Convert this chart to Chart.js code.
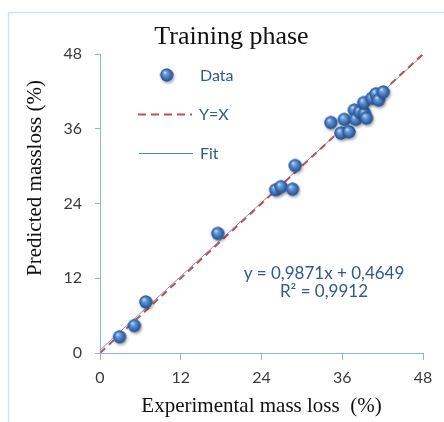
<!DOCTYPE html>
<html>
<head>
<meta charset="utf-8">
<script src="https://cdn.jsdelivr.net/npm/chart.js@4/dist/chart.umd.min.js"></script>
<style>
  html, body { margin: 0; padding: 0; background: #fff; }
  #wrap { position: relative; width: 444px; height: 422px; }
  canvas { display: block; }
</style>
</head>
<body>
<div id="wrap"><canvas id="c" width="444" height="422"></canvas></div>
<script>
// ---- data ----
const experimental = [2.9, 5.1, 6.8, 17.5, 26.1, 26.9, 28.6, 29.0, 34.3, 35.8, 36.3, 37.0, 37.8, 38.0, 38.6, 39.3, 39.6, 39.2, 40.4, 41.0, 41.4, 42.1];
const predicted    = [2.6, 4.4, 8.2, 19.2, 26.2, 26.7, 26.3, 30.1, 37.0, 35.3, 37.5, 35.5, 39.0, 37.5, 38.7, 38.5, 37.7, 40.2, 40.9, 41.6, 40.6, 41.9];
const identityX = [0, 48];
const identityY = [0, 48];
const fitX = [0, 48];
const fitY = [0.46, 47.85];
const tickValues = [0, 12, 24, 36, 48];
const titleText = "Training phase";
const xTitle = "Experimental mass loss  (%)";
const yTitle = "Predicted massloss (%)";
const seriesNames = ["Data", "Y=X", "Fit"];
const equationLines = ["y = 0,9871x + 0,4649", "R\u00B2 = 0,9912"];

// ---- styles ----
const axisColor = "#8DB3E2";
const tickColor = "#3A3A3A";
const redDash = "#C0504D";
const fitBlue = "#6E9BD1";
const textBlue = "#2F5A8E";

// shaded sphere marker
function makeSphere() {
  const s = 20, c = document.createElement("canvas");
  c.width = s; c.height = s;
  const g = c.getContext("2d");
  const cx = 10, cy = 10, r = 6.5;
  g.save();
  g.shadowColor = "rgba(0,0,0,0.35)";
  g.shadowBlur = 3;
  g.shadowOffsetX = 1.2;
  g.shadowOffsetY = 1.8;
  g.beginPath(); g.arc(cx, cy, r, 0, Math.PI * 2);
  g.fillStyle = "#3868AA"; g.fill();
  g.restore();
  const grad = g.createRadialGradient(cx - 2, cy - 2.6, 0.4, cx, cy, r);
  grad.addColorStop(0, "#C4DCF5");
  grad.addColorStop(0.25, "#6E9FDC");
  grad.addColorStop(0.7, "#3A6DB2");
  grad.addColorStop(1, "#234F8C");
  g.beginPath(); g.arc(cx, cy, r, 0, Math.PI * 2);
  g.fillStyle = grad; g.fill();
  return c;
}
const sphere = makeSphere();

const scatterData = experimental.map((x, i) => ({ x: x, y: predicted[i] }));
const identityData = identityX.map((x, i) => ({ x: x, y: identityY[i] }));
const fitData = fitX.map((x, i) => ({ x: x, y: fitY[i] }));

const tickFont = { family: "Lato", size: 16 };

const overlay = {
  id: "overlay",
  beforeDraw(chart) {
    const ctx = chart.ctx;
    ctx.save();
    ctx.fillStyle = "#fff";
    ctx.fillRect(0, 0, chart.width, chart.height);
    ctx.strokeStyle = "#D6E1F0";
    ctx.lineWidth = 1.5;
    ctx.beginPath();
    ctx.moveTo(8.5, 430); ctx.lineTo(8.5, 12.5); ctx.lineTo(450, 12.5);
    ctx.stroke();
    ctx.restore();
  },
  afterDraw(chart) {
    const ctx = chart.ctx;
    ctx.save();
    // chart title
    ctx.font = "26px 'Liberation Serif'";
    ctx.fillStyle = "#111";
    ctx.textAlign = "center";
    ctx.textBaseline = "middle";
    ctx.fillText(titleText, 231.5, 37);
    // y axis title
    ctx.translate(35, 178);
    ctx.rotate(-Math.PI / 2);
    ctx.font = "21px 'Liberation Serif'";
    ctx.fillText(yTitle, 0, 0);
    ctx.restore();

    // legend
    ctx.save();
    ctx.font = "16px Lato";
    ctx.fillStyle = textBlue;
    ctx.textBaseline = "middle";
    ctx.textAlign = "left";
    ctx.drawImage(sphere, 166.7 - 10, 75 - 10);
    ctx.fillText(chart.data.datasets[0].label, 200, 76);
    ctx.strokeStyle = redDash; ctx.lineWidth = 2; ctx.setLineDash([8, 5]);
    ctx.beginPath(); ctx.moveTo(138, 114.5); ctx.lineTo(192, 114.5); ctx.stroke();
    ctx.setLineDash([]);
    ctx.fillText(chart.data.datasets[1].label, 199, 115);
    ctx.strokeStyle = "#4F81BD"; ctx.lineWidth = 1;
    ctx.beginPath(); ctx.moveTo(139, 153.5); ctx.lineTo(193, 153.5); ctx.stroke();
    ctx.fillText(chart.data.datasets[2].label, 200, 154);

    // equation
    ctx.font = "17px Lato";
    ctx.textAlign = "center";
    ctx.fillText(equationLines[0], 324, 274);
    ctx.fillText(equationLines[1], 324, 292);
    ctx.restore();
  }
};

new Chart(document.getElementById("c"), {
  type: "scatter",
  data: {
    datasets: [
      { label: seriesNames[0], data: scatterData, pointStyle: sphere, pointRadius: 7, pointHoverRadius: 7, order: 0 },
      { type: "line", label: seriesNames[1], data: identityData, borderColor: redDash, borderWidth: 2,
        borderDash: [7, 5], pointRadius: 0, fill: false, order: 1 },
      { type: "line", label: seriesNames[2], data: fitData, borderColor: fitBlue, borderWidth: 1,
        pointRadius: 0, fill: false, order: 2 }
    ]
  },
  options: {
    responsive: false,
    animation: false,
    devicePixelRatio: 1,
    layout: { padding: { left: 0, right: 21, top: 54, bottom: 0 } },
    plugins: {
      legend: { display: false },
      tooltip: { enabled: false },
      title: { display: false, text: titleText }
    },
    scales: {
      x: {
        type: "linear", min: 0, max: 48,
        afterBuildTicks: s => { s.ticks = tickValues.map(v => ({ value: v })); },
        afterFit: s => { s.height = 69; },
        grid: { display: true, drawOnChartArea: false, drawTicks: true, tickLength: 7, color: axisColor },
        border: { color: axisColor, width: 1 },
        ticks: { color: tickColor, font: tickFont, padding: 8, maxRotation: 0 },
        title: { display: true, text: xTitle, color: "#111",
          font: { family: "Liberation Serif", size: 21, lineHeight: 1.2 }, padding: { top: 0, bottom: 3 } }
      },
      y: {
        type: "linear", min: 0, max: 48,
        afterBuildTicks: s => { s.ticks = tickValues.map(v => ({ value: v })); },
        afterFit: s => { s.width = 100; },
        grid: { display: true, drawOnChartArea: false, drawTicks: true, tickLength: 5, color: axisColor },
        border: { color: axisColor, width: 1 },
        ticks: { color: tickColor, font: tickFont, padding: 13 }
      }
    }
  },
  plugins: [overlay]
});
</script>
</body>
</html>
